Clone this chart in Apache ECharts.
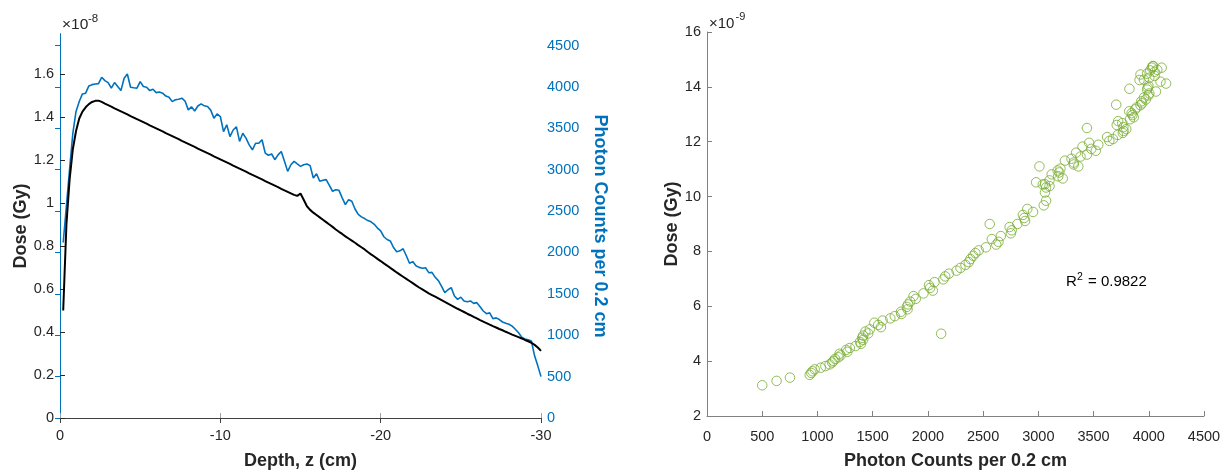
<!DOCTYPE html>
<html>
<head>
<meta charset="utf-8">
<script src="https://cdn.jsdelivr.net/npm/echarts@6/dist/echarts.min.js"></script>
<style>
  html, body { margin: 0; padding: 0; background: #fff; }
  #chart { width: 1230px; height: 475px; }
</style>
</head>
<body>
<div id="chart"></div>
<script>
// depth below surface (cm), one sample every 0.2 cm
const depth = [
  -0.2, -0.4, -0.6, -0.8, -1.0, -1.2, -1.4, -1.6, -1.8, -2.0,
  -2.2, -2.4, -2.6, -2.8, -3.0, -3.2, -3.4, -3.6, -3.8, -4.0,
  -4.2, -4.4, -4.6, -4.8, -5.0, -5.2, -5.4, -5.6, -5.8, -6.0,
  -6.2, -6.4, -6.6, -6.8, -7.0, -7.2, -7.4, -7.6, -7.8, -8.0,
  -8.2, -8.4, -8.6, -8.8, -9.0, -9.2, -9.4, -9.6, -9.8, -10.0,
  -10.2, -10.4, -10.6, -10.8, -11.0, -11.2, -11.4, -11.6, -11.8, -12.0,
  -12.2, -12.4, -12.6, -12.8, -13.0, -13.2, -13.4, -13.6, -13.8, -14.0,
  -14.2, -14.4, -14.6, -14.8, -15.0, -15.2, -15.4, -15.6, -15.8, -16.0,
  -16.2, -16.4, -16.6, -16.8, -17.0, -17.2, -17.4, -17.6, -17.8, -18.0,
  -18.2, -18.4, -18.6, -18.8, -19.0, -19.2, -19.4, -19.6, -19.8, -20.0,
  -20.2, -20.4, -20.6, -20.8, -21.0, -21.2, -21.4, -21.6, -21.8, -22.0,
  -22.2, -22.4, -22.6, -22.8, -23.0, -23.2, -23.4, -23.6, -23.8, -24.0,
  -24.2, -24.4, -24.6, -24.8, -25.0, -25.2, -25.4, -25.6, -25.8, -26.0,
  -26.2, -26.4, -26.6, -26.8, -27.0, -27.2, -27.4, -27.6, -27.8, -28.0,
  -28.2, -28.4, -28.6, -28.8, -29.0, -29.2, -29.4, -29.6, -29.8, -30.0
]

// dose in units of 1e-8 Gy (black curve)
const dose = [
  0.50, 0.90, 1.11, 1.25, 1.335, 1.393, 1.425, 1.445, 1.46, 1.47,
  1.475, 1.476, 1.470, 1.462, 1.455, 1.448, 1.440, 1.433, 1.426, 1.419,
  1.412, 1.404, 1.397, 1.390, 1.383, 1.376, 1.369, 1.361, 1.354, 1.347,
  1.340, 1.333, 1.325, 1.318, 1.311, 1.304, 1.297, 1.289, 1.282, 1.275,
  1.268, 1.261, 1.253, 1.246, 1.239, 1.232, 1.225, 1.217, 1.210, 1.203,
  1.196, 1.189, 1.182, 1.174, 1.167, 1.160, 1.153, 1.146, 1.138, 1.131,
  1.124, 1.117, 1.110, 1.102, 1.095, 1.088, 1.081, 1.074, 1.066, 1.059,
  1.052, 1.045, 1.038, 1.033, 1.044, 1.015, 0.985, 0.968, 0.955, 0.944,
  0.933, 0.922, 0.911, 0.900, 0.889, 0.877, 0.866, 0.856, 0.845, 0.835,
  0.825, 0.815, 0.804, 0.794, 0.784, 0.772, 0.761, 0.751, 0.740, 0.730,
  0.719, 0.709, 0.698, 0.688, 0.677, 0.667, 0.657, 0.647, 0.637, 0.627,
  0.617, 0.607, 0.598, 0.589, 0.580, 0.572, 0.564, 0.556, 0.548, 0.540,
  0.532, 0.524, 0.516, 0.508, 0.501, 0.493, 0.485, 0.478, 0.470, 0.463,
  0.455, 0.448, 0.441, 0.434, 0.427, 0.421, 0.414, 0.408, 0.401, 0.395,
  0.388, 0.382, 0.376, 0.370, 0.363, 0.357, 0.350, 0.340, 0.328, 0.312
]

// photon counts per 0.2 cm (blue curve)
const counts = [
  2120, 2560, 3010, 3440, 3705, 3825, 3916, 3925, 4013, 4028,
  4035, 4040, 4117, 4077, 4053, 3985, 4053, 4005, 3956, 4106,
  4157, 3997, 3990, 3985, 4065, 4005, 3997, 3956, 3973, 3932,
  3940, 3925, 3890, 3876, 3823, 3845, 3852, 3864, 3830, 3723,
  3760, 3710, 3770, 3796, 3772, 3765, 3720, 3623, 3675, 3643,
  3460, 3543, 3400, 3480, 3520, 3342, 3440, 3382, 3300, 3241,
  3320, 3320, 3362, 3200, 3175, 3190, 3121, 3180, 3221, 3101,
  2980, 3060, 3101, 3070, 3040, 3060, 3070, 3049, 2900, 2952,
  2860, 2872, 2880, 2810, 2740, 2759, 2751, 2660, 2579, 2639,
  2619, 2525, 2460, 2430, 2410, 2385, 2370, 2340, 2295, 2260,
  2190, 2157, 2140, 2060, 2010, 2020, 2045, 1960, 1870, 1890,
  1840, 1820, 1810, 1816, 1756, 1760, 1700, 1660, 1590, 1515,
  1550, 1575, 1474, 1434, 1460, 1414, 1405, 1414, 1385, 1394,
  1345, 1293, 1260, 1270, 1200, 1210, 1190, 1160, 1145, 1133,
  1110, 1072, 1030, 975, 955, 944, 930, 751, 630, 500
]

const depthTicks = [0, -10, -20, -30]
const r2Text = '0.9822'

const font = '"Liberation Sans", Arial, Helvetica, sans-serif'
const textColor = '#262626'
const blue = '#0072BD'
const green = '#77AC30'

const chart = echarts.init(document.getElementById('chart'))

// plain numbers, no thousands separator
const plain = v => String(+(+v).toFixed(4))

function tickAxis (color) {
  return {
    axisLine: { show: true, lineStyle: { color: color, width: 1 } },
    axisTick: { show: true, inside: true, length: 5, lineStyle: { color: color } },
    splitLine: { show: false }
  }
}

function labels (extra) {
  return Object.assign({ color: textColor, fontSize: 14.5, fontFamily: font, formatter: plain }, extra)
}

const titleStyle = { fontSize: 18, fontWeight: 'bold', fontFamily: font, color: textColor }

function txt (text, left, top, size, fill) {
  return { type: 'text', left: left, top: top, style: { text: text, fontSize: size, fontFamily: font, fill: fill || textColor } }
}

const option = {
  animation: false,
  textStyle: { fontFamily: font },
  grid: [
    { left: 60, top: 34, width: 481, height: 384.5 },
    { left: 707, top: 32, width: 497, height: 391 }
  ],
  xAxis: [
    Object.assign(tickAxis('#a0a0a0'), {
      gridIndex: 0,
      type: 'value',
      min: -30,
      max: 0,
      interval: 10,
      inverse: true,
      name: 'Depth, z (cm)',
      nameLocation: 'middle',
      nameGap: 34,
      nameTextStyle: titleStyle,
      axisLabel: labels({ margin: 10, formatter: v => depthTicks.indexOf(v) >= 0 ? String(v) : '' })
    }),
    Object.assign(tickAxis('#404040'), {
      gridIndex: 0,
      type: 'value',
      position: 'top',
      min: -30,
      max: 0,
      interval: 10,
      inverse: true,
      axisLabel: { show: false }
    }),
    Object.assign(tickAxis('#808080'), {
      gridIndex: 1,
      type: 'value',
      min: 0,
      max: 4500,
      interval: 500,
      name: 'Photon Counts per 0.2 cm',
      nameLocation: 'middle',
      nameGap: 36,
      nameTextStyle: titleStyle,
      axisLabel: labels({ margin: 13 })
    })
  ],
  yAxis: [
    Object.assign(tickAxis('#262626'), {
      gridIndex: 0,
      type: 'value',
      min: 0,
      max: 1.786,
      interval: 0.2,
      name: 'Dose (Gy)',
      nameLocation: 'middle',
      nameGap: 30,
      nameTextStyle: titleStyle,
      axisLabel: labels({ margin: 6, showMaxLabel: false })
    }),
    Object.assign(tickAxis(blue), {
      gridIndex: 0,
      type: 'value',
      position: 'right',
      min: 0,
      max: 4640,
      interval: 500,
      name: 'Photon Counts per 0.2 cm',
      nameLocation: 'middle',
      nameRotate: -90,
      nameGap: 50,
      nameTextStyle: Object.assign({}, titleStyle, { color: blue }),
      axisLabel: labels({ color: blue, margin: 6, showMaxLabel: false })
    }),
    Object.assign(tickAxis('#808080'), {
      gridIndex: 1,
      type: 'value',
      min: 2,
      max: 16,
      interval: 2,
      name: 'Dose (Gy)',
      nameLocation: 'middle',
      nameGap: 25,
      nameTextStyle: titleStyle,
      axisLabel: labels({ margin: 6 })
    })
  ],
  series: [
    {
      name: 'Photon counts',
      type: 'line',
      xAxisIndex: 0,
      yAxisIndex: 1,
      showSymbol: false,
      symbol: 'none',
      lineStyle: { color: blue, width: 1.6 },
      data: depth.map((z, i) => [z, counts[i]]),
      z: 2
    },
    {
      name: 'Dose',
      type: 'line',
      xAxisIndex: 0,
      yAxisIndex: 0,
      showSymbol: false,
      symbol: 'none',
      lineStyle: { color: '#000000', width: 2 },
      data: depth.map((z, i) => [z, dose[i]]),
      z: 3
    },
    {
      name: 'Dose vs counts',
      type: 'scatter',
      xAxisIndex: 2,
      yAxisIndex: 2,
      symbol: 'circle',
      symbolSize: 9.5,
      itemStyle: { color: 'rgba(0,0,0,0)', borderColor: green, borderWidth: 1 },
      // scatter dose axis is in units of 1e-9 Gy
      data: counts.map((c, i) => [c, Math.round(dose[i] * 1000) / 100])
    }
  ],
  graphic: [
    // exponent labels
    txt('×10', 62, 17, 15.5),
    txt('-8', 88, 13, 11.5),
    txt('×10', 709, 16.5, 15),
    txt('-9', 735.5, 11, 11),
    // goodness of fit
    txt('R', 1066, 274.5, 15, '#000000'),
    txt('2', 1077, 271.5, 10.5, '#000000'),
    txt('= ' + r2Text, 1088, 274.5, 15, '#000000')
  ]
}

chart.setOption(option)
</script>
</body>
</html>
